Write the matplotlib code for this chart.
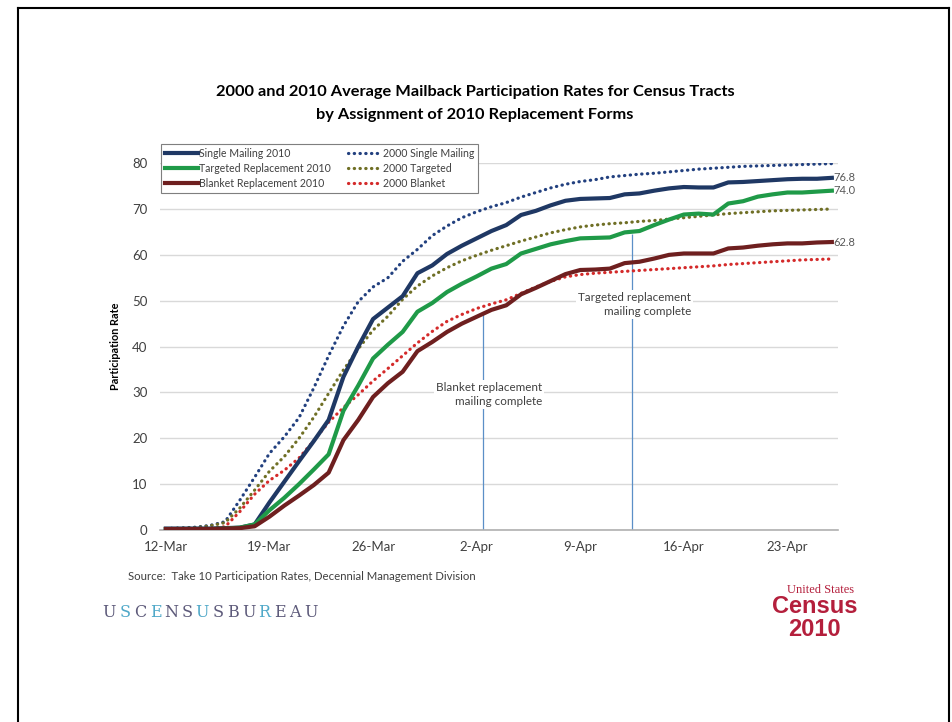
import matplotlib.pyplot as plt
import numpy as np
from matplotlib.lines import Line2D

# Tageswerte ab 12-Mar (46 Tage)
single_2010 = [0.3, 0.3, 0.3, 0.3, 0.4, 0.5, 1.2, 6.0, 10.5, 15.0, 19.4, 24.0, 33.4, 40.0,
               46.0, 48.5, 51.0, 56.0, 57.7, 60.2, 62.0, 63.6, 65.2, 66.5, 68.7, 69.6, 70.8,
               71.8, 72.2, 72.3, 72.4, 73.2, 73.4, 74.0, 74.5, 74.8, 74.7, 74.7, 75.8, 75.9,
               76.1, 76.3, 76.5, 76.6, 76.6, 76.8]
targeted_2010 = [0.2, 0.2, 0.2, 0.2, 0.3, 0.5, 1.2, 4.3, 7.0, 10.0, 13.2, 16.5, 26.0, 31.5,
                 37.4, 40.4, 43.2, 47.6, 49.5, 51.9, 53.7, 55.3, 57.0, 58.0, 60.3, 61.3, 62.3,
                 63.0, 63.6, 63.7, 63.8, 64.9, 65.2, 66.5, 67.7, 68.8, 69.0, 68.8, 71.2, 71.7,
                 72.7, 73.2, 73.6, 73.6, 73.8, 74.0]
blanket_2010 = [0.2, 0.2, 0.2, 0.2, 0.3, 0.4, 0.8, 2.9, 5.3, 7.5, 9.8, 12.5, 19.6, 24.0,
                29.0, 32.0, 34.5, 39.0, 41.0, 43.2, 45.0, 46.5, 48.0, 49.0, 51.4, 52.8, 54.3,
                55.8, 56.7, 56.8, 57.0, 58.2, 58.5, 59.2, 60.0, 60.3, 60.3, 60.3, 61.4, 61.6,
                62.0, 62.3, 62.5, 62.5, 62.7, 62.8]
single_2000 = [0.3, 0.4, 0.6, 1.0, 1.8, 6.5, 11.5, 16.7, 20.3, 24.5, 31.0, 38.0, 44.5, 49.8,
               53.0, 55.0, 58.6, 61.2, 64.2, 66.3, 68.1, 69.4, 70.5, 71.4, 72.6, 73.6, 74.6,
               75.4, 76.0, 76.4, 77.0, 77.3, 77.6, 77.8, 78.1, 78.4, 78.7, 78.9, 79.1, 79.3,
               79.4, 79.5, 79.6, 79.7, 79.8, 79.9]
targeted_2000 = [0.3, 0.4, 0.5, 0.9, 1.6, 4.8, 8.7, 12.8, 16.0, 20.0, 24.6, 29.8, 34.9, 39.5,
                 43.6, 46.6, 50.3, 53.2, 55.4, 57.2, 58.7, 59.9, 61.0, 62.0, 63.0, 63.9, 64.8,
                 65.5, 66.1, 66.5, 66.8, 67.0, 67.3, 67.5, 67.8, 68.1, 68.4, 68.7, 69.0, 69.2,
                 69.4, 69.6, 69.7, 69.8, 69.9, 70.0]
blanket_2000 = [0.2, 0.3, 0.3, 0.4, 0.7, 4.0, 7.8, 10.8, 13.0, 15.7, 19.5, 23.5, 26.7, 29.5,
                32.5, 35.2, 38.0, 40.8, 43.3, 45.5, 47.0, 48.3, 49.3, 50.2, 51.6, 53.0, 54.2,
                55.2, 55.7, 56.0, 56.2, 56.4, 56.6, 56.8, 57.0, 57.2, 57.4, 57.6, 57.9, 58.1,
                58.3, 58.5, 58.7, 58.9, 59.0, 59.1]

tick_labels = ['12-Mar', '19-Mar', '26-Mar', '2-Apr', '9-Apr', '16-Apr', '23-Apr']
# Versand abgeschlossen (Tage nach 12-Mar) und Hoehe der Linie
blanket_done, blanket_top = 21.4, 47.0
targeted_done, targeted_top = 31.5, 64.5

navy = '#1f3864'
green = '#1f9a48'
maroon = '#6e1f1f'
dnavy = '#22407f'
olive = '#6f6f25'
red = '#d42a2a'
txt = '#404040'

plt.rcParams['font.family'] = ['Lato', 'DejaVu Sans']

fig = plt.figure(figsize=(9.52, 7.22), dpi=100)
ax = fig.add_axes([0.168, 0.266, 0.712, 0.508])

days = np.arange(len(single_2010))
dot = (0, (0.1, 1.7))
dkw = dict(lw=2.3, linestyle=dot, dash_capstyle='round')
ax.plot(days, single_2000, color=dnavy, zorder=3, **dkw)
ax.plot(days, targeted_2000, color=olive, zorder=3, **dkw)
ax.plot(days, blanket_2000, color=red, zorder=3, **dkw)
ax.plot(days, single_2010, color=navy, lw=3, zorder=4)
ax.plot(days, targeted_2010, color=green, lw=3, zorder=4)
ax.plot(days, blanket_2010, color=maroon, lw=3, zorder=4)

# Endwerte
for s in [single_2010, targeted_2010, blanket_2010]:
    ax.annotate(f'{s[-1]:.1f}', (days[-1], s[-1]), xytext=(1, 0), textcoords='offset points',
                va='center', ha='left', fontsize=8, color='#595959')

# Markierungen
ax.vlines([blanket_done, targeted_done], 0, [blanket_top, targeted_top], color='#5b8fc7', lw=0.9, zorder=2)
ax.text(blanket_done + 4, 29.5, 'Blanket replacement\nmailing complete', ha='right', va='center',
        fontsize=8.4, color=txt, linespacing=1.3,
        bbox=dict(facecolor='white', edgecolor='none', pad=1.5), zorder=2.5)
ax.text(targeted_done + 4, 49.2, 'Targeted replacement\nmailing complete', ha='right', va='center',
        fontsize=8.4, color=txt, linespacing=1.3,
        bbox=dict(facecolor='white', edgecolor='none', pad=1.5), zorder=2.5)

ax.set_xlim(-0.4, 45.4)
ax.set_ylim(0, 80)
ax.set_yticks(range(0, 81, 10))
ax.set_xticks(days[::7][:len(tick_labels)])
ax.set_xticklabels(tick_labels)
ax.tick_params(axis='both', length=0, labelsize=9.5, colors=txt)
ax.tick_params(axis='x', pad=8)
ax.tick_params(axis='y', pad=9)
ax.grid(axis='y', color='#d9d9d9', lw=1)
ax.set_axisbelow(True)
for side in ['top', 'right', 'left']:
    ax.spines[side].set_visible(False)
ax.spines['bottom'].set_color('#b0b0b0')
ax.spines['bottom'].set_linewidth(1.2)
ax.set_ylabel('Participation Rate', fontsize=7.8, fontweight='bold', color='black', labelpad=8)

handles = [Line2D([], [], color=navy, lw=3), Line2D([], [], color=green, lw=3),
           Line2D([], [], color=maroon, lw=3),
           Line2D([], [], color=dnavy, **dkw),
           Line2D([], [], color=olive, **dkw),
           Line2D([], [], color=red, **dkw)]
labels = ['Single Mailing 2010', 'Targeted Replacement 2010', 'Blanket Replacement 2010',
          '2000 Single Mailing', '2000 Targeted', '2000 Blanket']
leg = fig.legend(handles, labels, ncol=2, loc='upper left', bbox_to_anchor=(0.169, 0.80),
                 borderaxespad=0, fontsize=7.6, handlelength=3.2, handletextpad=0.1,
                 columnspacing=1.6, labelspacing=0.38, borderpad=0.35, fancybox=False,
                 framealpha=1, edgecolor='#7f7f7f')
leg.get_frame().set_linewidth(0.8)
for t in leg.get_texts():
    t.set_color(txt)

fig.text(0.499, 0.873, '2000 and 2010 Average Mailback Participation Rates for Census Tracts',
         ha='center', va='center', fontsize=11.8, fontweight='bold')
fig.text(0.499, 0.841, 'by Assignment of 2010 Replacement Forms',
         ha='center', va='center', fontsize=11.8, fontweight='bold')
fig.text(0.134, 0.201, 'Source:  Take 10 Participation Rates, Decennial Management Division',
         ha='left', va='center', fontsize=8.2, color=txt)

# USCENSUSBUREAU
letters = 'USCENSUSBUREAU'
blue_idx = [1, 3, 6, 10]
for i, ch in enumerate(letters):
    fig.text(0.115 + i * 0.01625, 0.152, ch, ha='center', va='center', fontsize=11.5,
             family='DejaVu Serif', color='#4fa8c8' if i in blue_idx else '#5d5a7a')

# Census 2010 Logo
crimson = '#b41f3c'
fig.text(0.862, 0.183, 'United States', ha='center', va='center', fontsize=9,
         family='Liberation Serif', color=crimson)
fig.text(0.856, 0.160, 'Census', ha='center', va='center', fontsize=17, fontweight='bold',
         family='Liberation Sans', color=crimson)
fig.text(0.856, 0.128, '2010', ha='center', va='center', fontsize=17, fontweight='bold',
         family='Liberation Sans', color=crimson)

# Rahmen der Folie
x0, x1, yt = 18 / 952, 949 / 952, 1 - 8 / 722
fig.add_artist(Line2D([x0, x1], [yt, yt], color='black', lw=1.5, transform=fig.transFigure))
fig.add_artist(Line2D([x0, x0], [yt, 0], color='black', lw=1.5, transform=fig.transFigure))
fig.add_artist(Line2D([x1, x1], [yt, 0], color='black', lw=1.5, transform=fig.transFigure))

fig.savefig('out.png', dpi=100)
